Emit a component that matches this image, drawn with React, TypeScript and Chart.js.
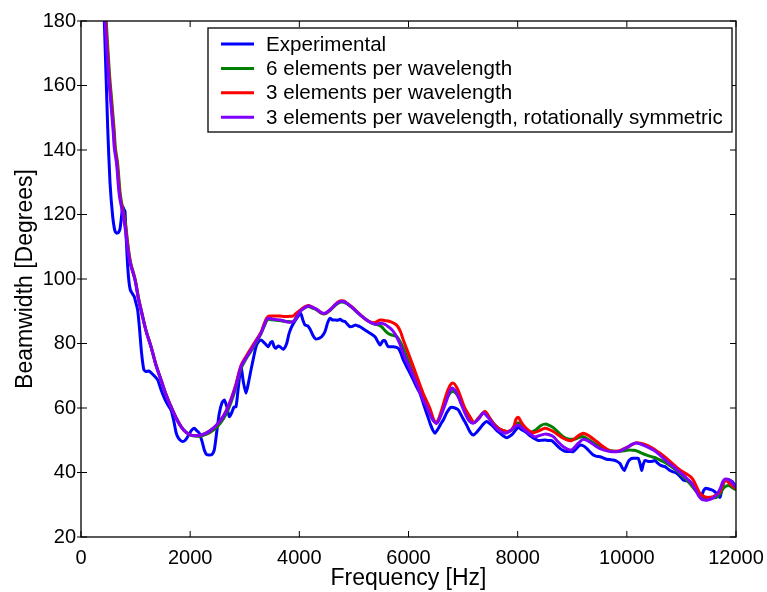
import React, { useEffect, useRef } from "react";
import { Chart, registerables } from "chart.js";

Chart.register(...registerables);

const X_TICKS = [0, 2000, 4000, 6000, 8000, 10000, 12000];
const Y_TICKS = [20, 40, 60, 80, 100, 120, 140, 160, 180];

const SERIES_LABELS = [
  "Experimental",
  "6 elements per wavelength",
  "3 elements per wavelength",
  "3 elements per wavelength, rotationally symmetric",
];
const SERIES_COLORS = ["#0000ff", "#008000", "#ff0000", "#8000ff"];

// [frequency Hz, beamwidth degrees]
const experimental: [number, number][] = [
  [400, 190], [427, 180], [489, 147], [531, 130], [580, 119.5], [620, 115], [653, 114.2], [690, 114.5],
  [714, 115.5], [740, 119], [763, 122.4], [790, 121.5], [806, 121], [830, 112], [855, 104], [880, 99],
  [904, 96.6], [940, 95.5], [977, 94.5], [1000, 93], [1038, 90.4], [1070, 85], [1110, 77], [1150, 72],
  [1191, 71.3], [1240, 71.5], [1282, 71], [1340, 70], [1405, 68.7], [1470, 65.5], [1530, 63], [1590, 61],
  [1649, 59.4], [1700, 56], [1740, 52.5], [1771, 51.1], [1820, 50], [1863, 49.6], [1910, 50], [1954, 51.1],
  [2020, 53], [2076, 53.7], [2120, 53], [2167, 52.2], [2220, 49.5], [2259, 47], [2300, 45.6], [2351, 45.4],
  [2400, 45.6], [2442, 47], [2490, 53], [2534, 58.4], [2580, 61.5], [2626, 62.5], [2670, 60.5], [2717, 57.3],
  [2760, 58.5], [2800, 60.2], [2840, 60.4], [2880, 66], [2931, 72.8], [2975, 68], [3023, 64.6], [3070, 68],
  [3114, 71.8], [3160, 75.5], [3206, 79], [3250, 80.5], [3298, 81.1], [3340, 80.5], [3371, 80], [3432, 79],
  [3470, 80.2], [3505, 80.6], [3540, 79], [3572, 78.5], [3610, 79.2], [3646, 79], [3706, 78.2], [3768, 80],
  [3810, 83], [3859, 85.2], [3951, 87.8], [4025, 89.4], [4060, 87.5], [4104, 85.7], [4150, 85.5], [4195, 84.5],
  [4250, 82.5], [4300, 81.4], [4360, 81.6], [4409, 82.1], [4470, 83.7], [4520, 86.5], [4562, 87.8], [4610, 87.3],
  [4653, 87.3], [4700, 87.2], [4745, 87.5], [4790, 87], [4836, 86.8], [4880, 86], [4928, 85.2], [4975, 85.3],
  [5020, 85.7], [5065, 85.5], [5111, 85.2], [5203, 84.2], [5294, 83.2], [5386, 82.1], [5440, 80.5], [5478, 79.5],
  [5530, 80.8], [5569, 80.9], [5600, 79.8], [5630, 79], [5722, 79], [5813, 78.5], [5860, 77], [5905, 74.9],
  [5997, 71.8], [6088, 68.7], [6150, 66.5], [6210, 64.6], [6270, 61.5], [6332, 58.4], [6400, 55], [6450, 53],
  [6485, 52.2], [6540, 53.5], [6590, 55], [6637, 56.3], [6700, 58.5], [6760, 60], [6790, 60.2], [6850, 60],
  [6912, 59.4], [6990, 57], [7066, 54.7], [7130, 52.5], [7187, 51.6], [7250, 52.5], [7310, 53.7], [7370, 55],
  [7432, 55.8], [7500, 55], [7553, 54.2], [7620, 53], [7676, 52.2], [7740, 51.3], [7799, 50.8], [7860, 51.3],
  [7920, 52.2], [7970, 53.3], [8012, 54], [8070, 53.3], [8134, 52.7], [8200, 51.8], [8257, 51.1], [8320, 50.4],
  [8378, 49.9], [8440, 50], [8500, 50.1], [8560, 49.9], [8623, 49.9], [8700, 48.7], [8775, 47.5], [8840, 46.8],
  [8898, 46.5], [8958, 46.5], [9020, 46.5], [9080, 47.5], [9142, 48.5], [9200, 48.3], [9264, 47.5], [9320, 46.5],
  [9386, 45.4], [9447, 45], [9508, 44.9], [9570, 44.5], [9631, 44.1], [9691, 44], [9752, 43.9], [9815, 43.5],
  [9875, 42.8], [9915, 41.5], [9953, 40.6], [9990, 42], [10027, 43.4], [10070, 44.2], [10118, 44.4], [10165, 44.4],
  [10210, 44.4], [10245, 42.5], [10272, 40.6], [10300, 42.5], [10332, 43.7], [10380, 43.5], [10424, 43.4], [10470, 43.5],
  [10516, 43.7], [10560, 43], [10607, 42.3], [10650, 42], [10699, 41.8], [10745, 41.2], [10790, 40.6], [10850, 40.2],
  [10913, 39.8], [10975, 38.8], [11034, 37.7], [11095, 37.4], [11157, 37.2], [11220, 36], [11279, 34.6], [11330, 33.5],
  [11371, 33], [11410, 34.5], [11450, 35.1], [11500, 34.9], [11554, 34.6], [11600, 34.2], [11646, 33.5], [11680, 32.7],
  [11706, 32.3], [11740, 34.5], [11780, 37.2], [11830, 37.6], [11877, 37.7], [11920, 37.3], [11950, 36.8], [12000, 35.6],
];

const sixPerWavelength: [number, number][] = [
  [440, 186], [462, 180], [520, 164], [570, 154], [612, 145.2], [631, 140.5], [670, 136], [722, 126],
  [780, 120.5], [822, 116.2], [868, 109.5], [910, 105], [995, 99.7], [1055, 94], [1103, 90.4], [1192, 84],
  [1284, 79], [1372, 73.5], [1468, 68.7], [1562, 64], [1651, 60.4], [1742, 57], [1834, 54.2], [1922, 52.5],
  [2017, 51.6], [2102, 51.3], [2200, 51.3], [2292, 51.8], [2383, 52.6], [2472, 53.8], [2567, 55.6], [2662, 58.3],
  [2750, 61.8], [2840, 66.5], [2931, 72.2], [3023, 75.2], [3114, 77.6], [3206, 80.2], [3298, 83], [3360, 85.5],
  [3420, 87.4], [3500, 87.4], [3580, 87.2], [3646, 87.1], [3720, 86.9], [3800, 86.8], [3889, 86.8], [3950, 88.3],
  [4012, 90], [4090, 91], [4164, 91.5], [4240, 91], [4317, 90.4], [4400, 89.4], [4470, 89.2], [4530, 89.8],
  [4592, 90.7], [4670, 92], [4745, 92.8], [4810, 92.8], [4867, 92.4], [4960, 91.2], [5050, 89.8], [5140, 88.5],
  [5233, 87.3], [5310, 86.5], [5386, 86], [5450, 85.7], [5508, 85.2], [5570, 84], [5630, 83.1], [5700, 82.6],
  [5783, 82.1], [5850, 80.5], [5905, 78.6], [6000, 74.5], [6100, 70], [6210, 65.5], [6332, 60.5], [6440, 56.5],
  [6516, 55.5], [6600, 58.5], [6680, 62], [6760, 64.6], [6821, 65.1], [6880, 64.3], [6943, 62.5], [7030, 59.5],
  [7127, 57], [7200, 55.5], [7290, 57], [7401, 58.8], [7470, 57.3], [7553, 55.3], [7630, 54], [7706, 53.2],
  [7829, 52.7], [7920, 53.5], [7970, 55], [8012, 55.4], [8070, 54.5], [8130, 53.5], [8230, 52.5], [8330, 53.2],
  [8420, 54.5], [8500, 55], [8580, 54.6], [8653, 53.9], [8740, 52.5], [8836, 51.1], [8920, 50.4], [8989, 50.3],
  [9060, 50.4], [9130, 50.9], [9203, 51.1], [9320, 50], [9447, 48.6], [9570, 47.5], [9691, 46.8], [9844, 46.5],
  [9940, 46.7], [10027, 47], [10100, 46.9], [10179, 46.7], [10270, 46], [10363, 45.4], [10450, 44.9], [10546, 44.4],
  [10640, 43.6], [10729, 42.8], [10820, 41.8], [10913, 40.6], [11000, 39.2], [11096, 37.7], [11190, 35.8], [11279, 34],
  [11340, 33], [11401, 32.3], [11460, 32.1], [11523, 32.1], [11590, 32.2], [11646, 32.3], [11710, 33.5], [11767, 35.1],
  [11820, 35.8], [11877, 35.9], [11940, 35.2], [12000, 34.6],
];

const threePerWavelength: [number, number][] = [
  [430, 186], [452, 180], [510, 164], [560, 154], [602, 145.2], [621, 140.5], [660, 136], [712, 126],
  [772, 120.5], [814, 116.2], [862, 109.5], [905, 105], [992, 99.7], [1052, 94], [1101, 90.4], [1191, 84],
  [1283, 79], [1371, 73.5], [1467, 68.7], [1561, 64], [1650, 60.4], [1741, 57], [1833, 54.2], [1921, 52.5],
  [2016, 51.6], [2101, 51.4], [2199, 51.6], [2291, 52.2], [2382, 53.2], [2471, 54.5], [2566, 56.4], [2661, 59.2],
  [2749, 62.8], [2840, 67.5], [2931, 73.2], [3023, 76], [3114, 78.5], [3206, 81], [3298, 83.5], [3360, 86.3],
  [3420, 88.3], [3500, 88.5], [3580, 88.5], [3646, 88.5], [3720, 88.4], [3800, 88.4], [3889, 88.6], [3950, 89.5],
  [4012, 90.3], [4090, 91.3], [4164, 91.8], [4240, 91.3], [4317, 90.6], [4400, 89.6], [4470, 89.3], [4530, 90],
  [4592, 90.9], [4670, 92.3], [4745, 93.2], [4810, 93.2], [4867, 92.6], [4960, 91.4], [5050, 90], [5140, 88.6],
  [5233, 87.3], [5310, 86.6], [5386, 86.5], [5480, 87.3], [5569, 87.1], [5680, 86.7], [5783, 85.7], [5850, 83.8],
  [5905, 81.1], [6030, 75.5], [6149, 70], [6270, 64.5], [6393, 59.8], [6460, 56.5], [6516, 55.3], [6600, 59],
  [6680, 63.5], [6760, 67], [6821, 67.7], [6880, 66.5], [6943, 64], [7030, 60], [7127, 57.3], [7200, 55.5],
  [7290, 57], [7401, 58.9], [7470, 57.3], [7553, 55.3], [7630, 54], [7706, 53.2], [7829, 52.7], [7920, 54],
  [7970, 56.5], [8012, 57.1], [8060, 55.8], [8104, 54.7], [8190, 53.2], [8287, 52.3], [8400, 53], [8500, 53.7],
  [8580, 53.3], [8653, 52.7], [8740, 51.7], [8836, 50.6], [8920, 50], [8989, 49.9], [9060, 50.7], [9130, 51.6],
  [9203, 52.2], [9320, 51.2], [9447, 49.6], [9570, 48], [9691, 46.7], [9844, 46.7], [9940, 47.3], [10027, 48],
  [10100, 48.7], [10179, 49.2], [10270, 49], [10363, 48.5], [10450, 47.7], [10546, 46.7], [10640, 45.6], [10729, 44.4],
  [10820, 43], [10913, 41.6], [11000, 40.5], [11096, 39.5], [11160, 38.8], [11218, 37.7], [11280, 35.5], [11340, 33.5],
  [11400, 32.7], [11462, 32.3], [11520, 32.3], [11584, 32.5], [11650, 33.2], [11706, 34], [11750, 36], [11798, 37.5],
  [11850, 37.2], [11877, 36.6], [11940, 35.8], [12000, 35],
];

const threeRotSym: [number, number][] = [
  [420, 186], [440, 180], [500, 164], [550, 154], [592, 145.2], [611, 140.5], [650, 136], [702, 126],
  [763, 120.5], [806, 116.2], [855, 109.5], [900, 105], [989, 99.7], [1050, 94], [1099, 90.4], [1190, 84],
  [1282, 79], [1370, 73.5], [1466, 68.7], [1560, 64], [1649, 60.4], [1740, 57], [1832, 54.2], [1920, 52.5],
  [2015, 51.6], [2100, 51.4], [2198, 51.6], [2290, 52.2], [2381, 53.2], [2470, 54.5], [2565, 56.3], [2660, 59],
  [2748, 62.5], [2840, 67], [2931, 72.8], [3023, 75.5], [3114, 78], [3206, 80.6], [3298, 83.2], [3360, 85.8],
  [3420, 87.8], [3500, 87.6], [3580, 87.4], [3646, 87.3], [3720, 87], [3800, 86.6], [3889, 86.8], [3950, 88.3],
  [4012, 89.9], [4090, 91], [4164, 91.6], [4240, 91.2], [4317, 90.6], [4400, 89.6], [4470, 89.4], [4530, 90],
  [4592, 90.9], [4670, 92.2], [4745, 93], [4810, 93], [4867, 92.5], [4960, 91.3], [5050, 89.9], [5140, 88.5],
  [5233, 87.3], [5310, 86.5], [5386, 86], [5450, 86.1], [5508, 86.3], [5570, 85.9], [5630, 85.2], [5710, 84],
  [5783, 82.1], [5850, 79.5], [5905, 77], [6000, 73.3], [6088, 69.9], [6150, 67.5], [6240, 63.5], [6332, 60.4],
  [6440, 56.5], [6516, 55.3], [6590, 57.5], [6668, 60.9], [6730, 64], [6790, 66.1], [6850, 65.5], [6912, 63.5],
  [6970, 61], [7035, 58.4], [7110, 56], [7187, 55.3], [7280, 56.5], [7370, 58.5], [7430, 57.6], [7493, 56.3],
  [7570, 54.5], [7645, 53.2], [7720, 52.5], [7786, 52.2], [7890, 53.2], [7950, 54.2], [8012, 54.7], [8090, 53.7],
  [8165, 52.7], [8240, 51.8], [8317, 51.1], [8410, 51.5], [8500, 51.9], [8580, 51.7], [8653, 51.1], [8740, 49.5],
  [8836, 48], [8920, 47.2], [8989, 47], [9050, 48], [9109, 49], [9203, 50.3], [9320, 49.5], [9447, 48],
  [9570, 47], [9691, 46.5], [9844, 46.5], [9940, 47.2], [10027, 48], [10090, 48.7], [10149, 49.1], [10220, 49],
  [10301, 48.5], [10390, 47.8], [10485, 47], [10580, 45.8], [10668, 44.4], [10760, 43], [10851, 41.8], [10940, 40.5],
  [11034, 39.2], [11110, 38], [11187, 36.6], [11250, 34.8], [11309, 33], [11355, 32], [11401, 31.5], [11460, 31.4],
  [11523, 31.7], [11585, 32.2], [11646, 33], [11710, 35], [11780, 37.7], [11877, 37.7], [11940, 36.5], [12000, 35.4],
];

const SERIES_DATA = [experimental, sixPerWavelength, threePerWavelength, threeRotSym];
const FONT = '"Liberation Sans", Arial, Helvetica, sans-serif';

const framePlugin = {
  id: "frameAndLegend",
  afterDatasetsDraw(chart: any) {
    const { ctx, chartArea: a } = chart;
    const xs = chart.scales.x;
    const ys = chart.scales.y;
    ctx.save();
    ctx.strokeStyle = "#000";
    ctx.lineWidth = 1.3;
    ctx.strokeRect(a.left, a.top, a.right - a.left, a.bottom - a.top);
    ctx.beginPath();
    X_TICKS.forEach((v) => {
      const px = xs.getPixelForValue(v);
      ctx.moveTo(px, a.bottom);
      ctx.lineTo(px, a.bottom - 6);
      ctx.moveTo(px, a.top);
      ctx.lineTo(px, a.top + 6);
    });
    Y_TICKS.forEach((v) => {
      const py = ys.getPixelForValue(v);
      ctx.moveTo(a.left - 4, py);
      ctx.lineTo(a.left + 6, py);
      ctx.moveTo(a.right, py);
      ctx.lineTo(a.right - 6, py);
    });
    ctx.lineWidth = 1;
    ctx.stroke();

    // legend box
    const boxW = 524;
    const boxH = 104;
    const bx = a.right - 4 - boxW;
    const by = a.top + 7;
    ctx.fillStyle = "#fff";
    ctx.fillRect(bx, by, boxW, boxH);
    ctx.lineWidth = 1.3;
    ctx.strokeStyle = "#000";
    ctx.strokeRect(bx, by, boxW, boxH);
    ctx.font = `20.6px ${FONT}`;
    ctx.textBaseline = "middle";
    ctx.textAlign = "left";
    SERIES_LABELS.forEach((label, i) => {
      const ry = by + 16 + i * 24.4;
      ctx.strokeStyle = SERIES_COLORS[i];
      ctx.lineWidth = 3;
      ctx.beginPath();
      ctx.moveTo(bx + 13, ry);
      ctx.lineTo(bx + 46, ry);
      ctx.stroke();
      ctx.fillStyle = "#000";
      ctx.fillText(label, bx + 58, ry + 1);
    });
    ctx.restore();
  },
};

export default function App() {
  const canvasRef = useRef<HTMLCanvasElement | null>(null);

  useEffect(() => {
    const canvas = canvasRef.current;
    if (!canvas) return;
    Chart.defaults.font.family = FONT;
    Chart.defaults.color = "#000";
    const chart = new Chart(canvas, {
      type: "line",
      data: {
        datasets: SERIES_DATA.map((d, i) => ({
          label: SERIES_LABELS[i],
          data: d.map(([x, y]) => ({ x, y })),
          borderColor: SERIES_COLORS[i],
          backgroundColor: SERIES_COLORS[i],
          borderWidth: 3,
          pointRadius: 0,
          tension: i === 0 ? 0.2 : 0.35,
          fill: false,
          clip: 0,
          order: 4 - i,
        })),
      },
      options: {
        responsive: false,
        animation: false,
        events: [],
        layout: { padding: { left: 0, right: 31, top: 21, bottom: 0 } },
        plugins: { legend: { display: false }, tooltip: { enabled: false } },
        scales: {
          x: {
            type: "linear",
            min: 0,
            max: 12000,
            afterFit: (s: any) => {
              s.height = 55;
              s.paddingLeft = 0;
              s.paddingRight = 0;
            },
            grid: { display: false, drawTicks: false },
            border: { display: false },
            ticks: {
              stepSize: 2000,
              padding: 9,
              font: { size: 20 },
              color: "#000",
              maxRotation: 0,
              callback: (v: any) => String(v),
            },
            title: { display: true, text: "Frequency [Hz]", font: { size: 23 }, color: "#000", padding: { top: 0, bottom: 0 } },
          },
          y: {
            type: "linear",
            min: 20,
            max: 180,
            afterFit: (s: any) => {
              s.width = 81;
              s.paddingTop = 0;
              s.paddingBottom = 0;
            },
            grid: { display: false, drawTicks: false },
            border: { display: false },
            ticks: { stepSize: 20, padding: 5, font: { size: 20 }, color: "#000", callback: (v: any) => String(v) },
            title: { display: true, text: "Beamwidth [Degrees]", font: { size: 23 }, color: "#000", padding: { top: 12, bottom: 0 } },
          },
        },
      },
      plugins: [framePlugin],
    });
    return () => chart.destroy();
  }, []);

  return (
    <div style={{ position: "absolute", left: 0, top: 0, width: 767, height: 592, background: "#fff" }}>
      <canvas ref={canvasRef} width={767} height={592} style={{ width: 767, height: 592 }} />
    </div>
  );
}
